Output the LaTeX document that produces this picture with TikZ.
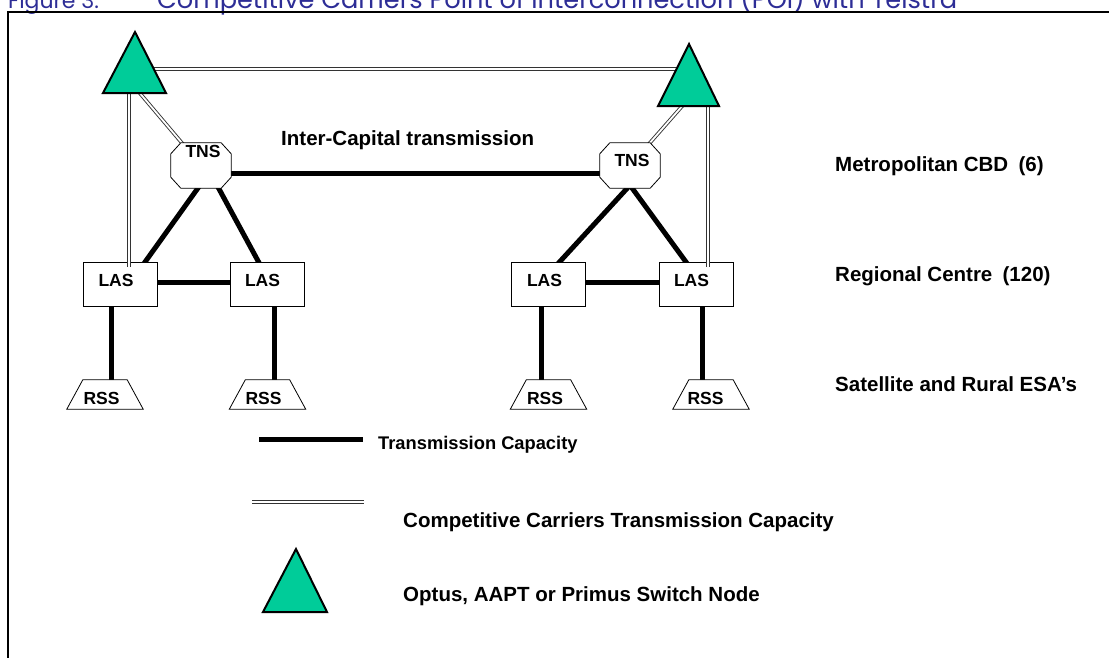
\documentclass[tikz,border=0pt]{standalone}
\usepackage{fontspec}
\setmainfont{Liberation Sans}
\newfontfamily\titlefont{Poppins}
\usetikzlibrary{calc,backgrounds}
\definecolor{nodegreen}{RGB}{0,204,153}
\definecolor{titleblue}{RGB}{45,45,150}
\begin{document}
\begin{tikzpicture}[x=1pt,y=-1pt,
  trunk/.style={line width=5pt},
  ccline/.style={draw=black!80, double=white, line width=0.9pt, double distance=1.8pt},
  switchtri/.style={fill=nodegreen, draw=black, line width=2pt, line join=miter},
  boxline/.style={draw, fill=white, line width=0.8pt},
  lasbox/.style={rectangle, boxline, minimum width=74pt, minimum height=44pt, inner sep=0pt},
  tnsframe/.style={rectangle, minimum width=60pt, minimum height=45pt, inner sep=0pt},
  rssframe/.style={rectangle, minimum width=76pt, minimum height=29pt, inner sep=0pt},
  boxtext/.style={font=\fontsize{17.5}{20}\selectfont\bfseries, inner sep=0pt, anchor=base},
  lbl/.style={font=\fontsize{20.5}{24}\selectfont\bfseries, inner sep=0pt, anchor=base west},
  ttl/.style={font=\fontsize{22}{26}\selectfont\titlefont, text=titleblue, inner sep=0pt, anchor=base west},
]
\useasboundingbox (0,0) rectangle (1109,657);

% caption (cut off at top)
\node[ttl] (fig) at (8,8) {Figure 3:};
\node[ttl] (title) at (157,8) {\resizebox{800pt}{!}{Competitive Carriers Point of Interconnection (POI) with Telstra}};

% frame
\draw[line width=2pt] (7.5,662) -- (7.5,11.5) -- (1115,11.5);

% node frames
\node[tnsframe] (tns1) at (201,165.5) {};
\node[tnsframe] (tns2) at (630,165.5) {};
\node[lasbox] (las1) at (120,284) {};
\node[lasbox] (las2) at (267.5,284) {};
\node[lasbox] (las3) at (548.5,284) {};
\node[lasbox] (las4) at (696.5,284) {};
\node[rssframe] (rss1) at (105,394.5) {};
\node[rssframe] (rss2) at (267.5,394.5) {};
\node[rssframe] (rss3) at (548.5,394.5) {};
\node[rssframe] (rss4) at (711,394.5) {};

% octagon (TNS) and trapezium (RSS) outlines drawn on the named frames
\foreach \n in {tns1,tns2}{
  \draw[boxline] ($(\n.north west)+(10,0)$) -- ($(\n.north east)+(-10,0)$)
    -- ($(\n.north east)+(0,11)$) -- ($(\n.south east)+(0,-11)$)
    -- ($(\n.south east)+(-10,0)$) -- ($(\n.south west)+(10,0)$)
    -- ($(\n.south west)+(0,-11)$) -- ($(\n.north west)+(0,11)$) -- cycle;
}
\foreach \n in {rss1,rss2,rss3,rss4}{
  \draw[boxline] (\n.south west) -- (\n.south east)
    -- ($(\n.north east)+(-16,0)$) -- ($(\n.north west)+(16,0)$) -- cycle;
}

\node[boxtext] (tl1) at (203,157) {TNS};
\node[boxtext] (tl2) at (632,166) {TNS};
\node[boxtext] (ll1) at (116,286) {LAS};
\node[boxtext] (ll2) at (262.5,286) {LAS};
\node[boxtext] (ll3) at (544.5,286) {LAS};
\node[boxtext] (ll4) at (691.5,286) {LAS};
\node[boxtext] (rl1) at (101.5,404) {RSS};
\node[boxtext] (rl2) at (263.5,404) {RSS};
\node[boxtext] (rl3) at (545,404) {RSS};
\node[boxtext] (rl4) at (705.5,404) {RSS};

% coordinates
\coordinate (icy) at (0,173);
\coordinate (v1) at (111,0);
\coordinate (v2) at (274,0);
\coordinate (v3) at (541,0);
\coordinate (v4) at (702,0);
\coordinate (swLd) at (138,91);
\coordinate (swRd) at (684,104);
\coordinate (swLv) at (129,88);
\coordinate (swRv) at (708,100);
\coordinate (las1in) at (129,267);
\coordinate (las4in) at (708,267);
\coordinate (topA) at (150,69);
\coordinate (topB) at (680,69);

\begin{scope}[on background layer]
  \draw[trunk] (tns1 |- icy) -- (tns2 |- icy);
  \draw[trunk] ($(tns1.south)+(-1,-3)$) -- ($(las1.north west)!0.81!(las1.north east)+(0,3)$);
  \draw[trunk] ($(tns1.south)+(16,-3)$) -- ($(las2.north west)!0.40!(las2.north east)+(0,3)$);
  \draw[trunk] ($(tns2.south)+(0,-3)$) -- ($(las3.north west)!0.615!(las3.north east)+(0,3)$);
  \draw[trunk] ($(tns2.south)+(0,-3)$) -- ($(las4.north west)!0.385!(las4.north east)+(0,3)$);
  \draw[trunk] ($(las1.center)+(0,-2)$) -- ($(las2.center)+(0,-2)$);
  \draw[trunk] ($(las3.center)+(0,-2)$) -- ($(las4.center)+(0,-2)$);
  \draw[trunk] (las1 -| v1) -- (rss1 -| v1);
  \draw[trunk] (las2 -| v2) -- (rss2 -| v2);
  \draw[trunk] (las3 -| v3) -- (rss3 -| v3);
  \draw[trunk] (las4 -| v4) -- (rss4 -| v4);
  \draw[ccline] (swLd) -- (tns1.center);
  \draw[ccline] (swRd) -- (tns2.center);
\end{scope}

\draw[ccline] (swLv) -- (las1in);
\draw[ccline] (swRv) -- (las4in);
\draw[ccline] (topA) -- (topB);

% switch triangles
\draw[switchtri] (135,32) coordinate (swL) -- (166,93) -- (103,93) -- cycle;
\draw[switchtri] (689,44) coordinate (swR) -- (719,106) -- (658,106) -- cycle;

% labels
\node[lbl] (inter) at (281,145) {Inter-Capital transmission};
\node[lbl] (metro) at (835,171) {Metropolitan CBD\enspace(6)};
\node[lbl] (regio) at (835,281) {Regional Centre\enspace(120)};
\node[lbl] (satel) at (835,391) {Satellite and Rural ESA’s};

% legend
\coordinate (lg1a) at (259,439);
\coordinate (lg1b) at (363,439);
\draw[trunk] (lg1a) -- (lg1b);
\node[lbl, font=\fontsize{18.3}{21}\selectfont\bfseries] (lgt1) at (378,449) {Transmission Capacity};
\coordinate (lg2a) at (252,502);
\coordinate (lg2b) at (364,502);
\draw[ccline] (lg2a) -- (lg2b);
\node[lbl] (lgt2) at (403,527) {Competitive Carriers Transmission Capacity};
\draw[switchtri] (296,549) coordinate (lgtri) -- (327,612) -- (263,612) -- cycle;
\node[lbl] (lgt3) at (403,601) {Optus, AAPT or Primus Switch Node};
\end{tikzpicture}
\end{document}
